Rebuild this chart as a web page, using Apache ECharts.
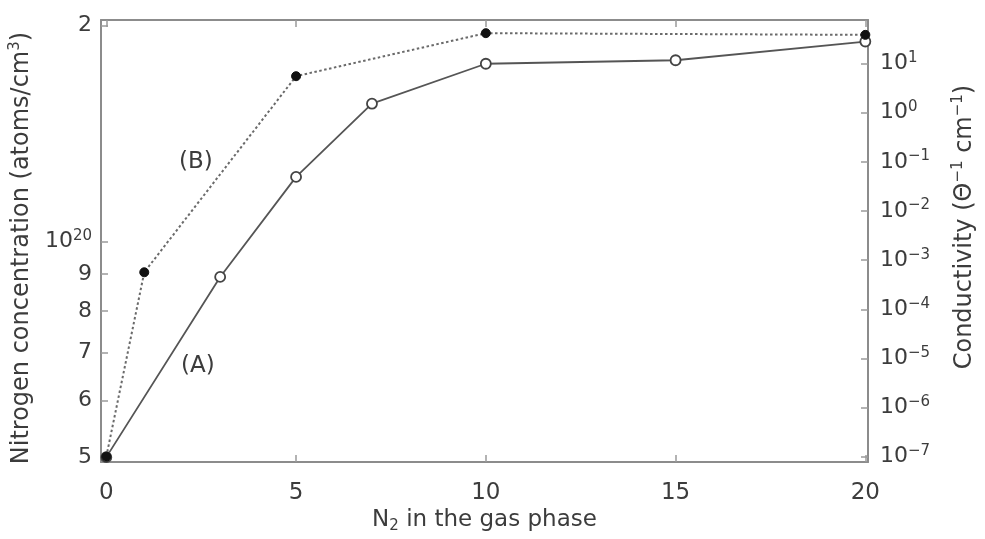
<!DOCTYPE html>
<html>
<head>
<meta charset="utf-8">
<script src="https://cdn.jsdelivr.net/npm/echarts@6/dist/echarts.min.js"></script>
<style>
  html, body { margin: 0; padding: 0; background: #fff; }
  #chart { width: 985px; height: 539px; }
</style>
</head>
<body>
<div id="chart"></div>
<script>
// Curve (A): nitrogen concentration vs. N2 in the gas phase
const nitrogenX = [0, 3, 5, 7, 10, 15, 20];
const nitrogenConc = [5.0e19, 8.92e19, 1.23e20, 1.556e20, 1.769e20, 1.789e20, 1.90e20];

// Curve (B): conductivity vs. N2 in the gas phase
const conductivityX = [0, 1, 5, 10, 20];
const conductivity = [1e-7, 5.66e-4, 5.55, 41.7, 38.5];

// Axis ticks and their labels
const xTicks = [0, 5, 10, 15, 20];
const concTicks = [5e19, 6e19, 7e19, 8e19, 9e19, 1e20, 2e20];
const concTickLabels = ['5', '6', '7', '8', '9', '10^20', '2'];
const condTicks = [1e-7, 1e-6, 1e-5, 1e-4, 1e-3, 1e-2, 1e-1, 1e0, 1e1];
const condTickLabels = ['10^−7', '10^−6', '10^−5', '10^−4', '10^−3', '10^−2', '10^−1', '10^0', '10^1'];

const FONT = 'DejaVu Sans';
const TEXT = '#3c3c3c';
const FRAME = '#8c8c8c';
const TICK = '#9a9a9a';

// Turn "10^n" style strings into rich-text with a raised exponent
function pick(ticks, labels, v) {
  let best = 0, bestD = Infinity;
  ticks.forEach((t, i) => {
    const d = Math.abs(Math.log10(t) - Math.log10(v));
    if (d < bestD) { bestD = d; best = i; }
  });
  const s = labels[best];
  const k = s.indexOf('^');
  return k < 0 ? '{b|' + s + '}' : '{b|' + s.slice(0, k) + '}{s|' + s.slice(k + 1) + '}';
}

const labelRich = {
  b: { fontFamily: FONT, fontSize: 22, color: TEXT, lineHeight: 26 },
  s: { fontFamily: FONT, fontSize: 15, color: TEXT, verticalAlign: 'top', lineHeight: 15 }
};
const nameRich = {
  t: { fontFamily: FONT, fontSize: 24, color: TEXT, lineHeight: 28 },
  x: { fontFamily: FONT, fontSize: 23, color: TEXT, lineHeight: 27 },
  s: { fontFamily: FONT, fontSize: 15, color: TEXT, verticalAlign: 'top', lineHeight: 15 },
  d: { fontFamily: FONT, fontSize: 15, color: TEXT, verticalAlign: 'bottom', lineHeight: 15 }
};

const pairs = (xs, ys) => xs.map((x, i) => [x, ys[i]]);

const chart = echarts.init(document.getElementById('chart'), null, { renderer: 'canvas' });

chart.setOption({
  animation: false,
  backgroundColor: '#fff',
  grid: { left: 101, right: 112, top: 20, bottom: 73, containLabel: false },
  xAxis: [
    {
      type: 'value', position: 'bottom', min: -0.14, max: 20.07,
      name: '{x|N}{d|2}{x| in the gas phase}',
      nameLocation: 'middle', nameGap: 40,
      nameTextStyle: { rich: nameRich },
      axisLine: { show: true, onZero: false, lineStyle: { color: FRAME, width: 2 } },
      axisTick: { show: true, inside: true, length: 7, customValues: xTicks, lineStyle: { color: TICK, width: 1.5 } },
      axisLabel: { show: true, margin: 19, customValues: xTicks, fontFamily: FONT, fontSize: 23, color: TEXT },
      splitLine: { show: false }
    },
    {
      type: 'value', position: 'top', min: -0.14, max: 20.07,
      axisLine: { show: true, onZero: false, lineStyle: { color: FRAME, width: 2 } },
      axisTick: { show: true, inside: true, length: 7, customValues: xTicks, lineStyle: { color: TICK, width: 1.5 } },
      axisLabel: { show: false },
      splitLine: { show: false }
    }
  ],
  yAxis: [
    {
      type: 'log', position: 'left', min: 4.921e19, max: 2.036e20,
      name: '{t|Nitrogen concentration (atoms/cm}{s|3}{t|)}',
      nameLocation: 'middle', nameGap: 58, nameRotate: 90,
      nameTextStyle: { rich: nameRich, padding: [0, 14, 0, 0] },
      axisLine: { show: true, onZero: false, lineStyle: { color: FRAME, width: 2 } },
      axisTick: { show: true, inside: true, length: 7, customValues: concTicks, lineStyle: { color: TICK, width: 1.5 } },
      axisLabel: {
        show: true, margin: 9, customValues: concTicks,
        formatter: v => pick(concTicks, concTickLabels, v),
        rich: labelRich
      },
      splitLine: { show: false }
    },
    {
      type: 'log', position: 'right', min: Math.pow(10, -7.111), max: Math.pow(10, 1.888),
      name: '{t|Conductivity (Θ}{s|−1}{t| cm}{s|−1}{t|)}',
      nameLocation: 'middle', nameGap: 83, nameRotate: 90,
      nameTextStyle: { rich: nameRich, padding: [0, 0, 0, 28] },
      axisLine: { show: true, onZero: false, lineStyle: { color: FRAME, width: 2 } },
      axisTick: { show: true, inside: true, length: 7, customValues: condTicks, lineStyle: { color: TICK, width: 1.5 } },
      axisLabel: {
        show: true, margin: 12, customValues: condTicks,
        formatter: v => pick(condTicks, condTickLabels, v),
        rich: labelRich
      },
      splitLine: { show: false }
    }
  ],
  graphic: [
    { type: 'text', left: 179, top: 151, style: { text: '(B)', fontFamily: FONT, fontSize: 23, fill: TEXT } },
    { type: 'text', left: 181, top: 355, style: { text: '(A)', fontFamily: FONT, fontSize: 23, fill: TEXT } }
  ],
  series: [
    {
      name: '(A)', type: 'line', xAxisIndex: 0, yAxisIndex: 0,
      data: pairs(nitrogenX, nitrogenConc),
      symbol: 'circle', symbolSize: 10, z: 3,
      lineStyle: { color: '#555', width: 1.8 },
      itemStyle: { color: '#fff', borderColor: '#444', borderWidth: 1.8 }
    },
    {
      name: '(B)', type: 'line', xAxisIndex: 0, yAxisIndex: 1,
      data: pairs(conductivityX, conductivity),
      symbol: 'circle', symbolSize: 9, z: 4,
      lineStyle: { color: '#6a6a6a', width: 2, type: [2.5, 2.5] },
      itemStyle: { color: '#111', borderColor: '#111', borderWidth: 1 }
    }
  ]
});
</script>
</body>
</html>
